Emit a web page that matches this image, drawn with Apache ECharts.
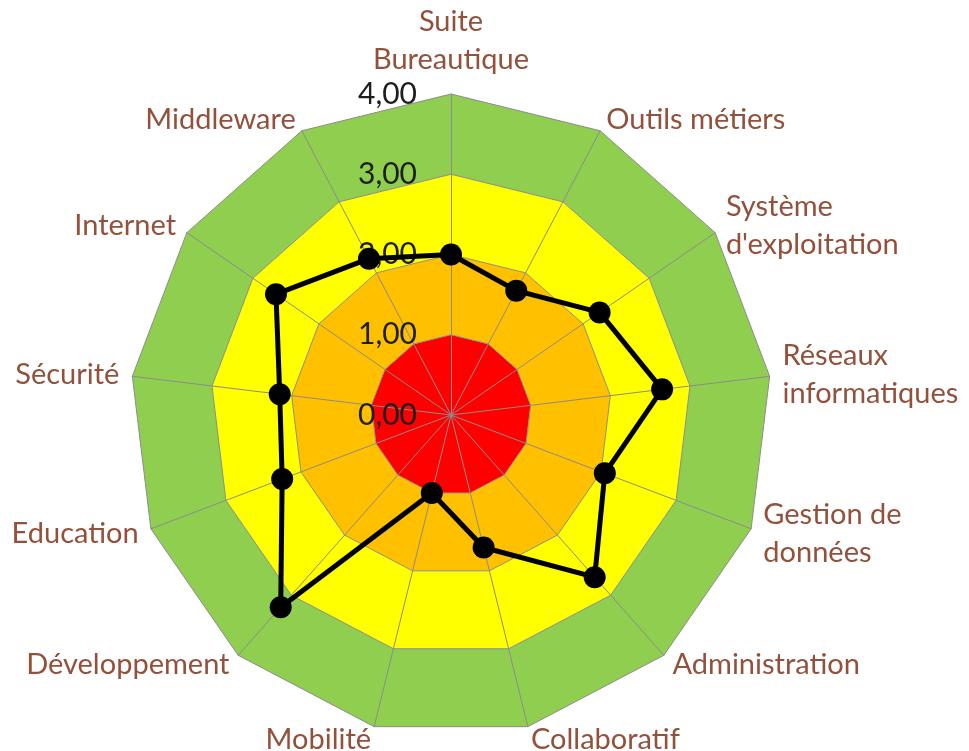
<!DOCTYPE html>
<html>
<head>
<meta charset="utf-8">
<script src="https://cdn.jsdelivr.net/npm/echarts@6/dist/echarts.min.js"></script>
<style>
html,body{margin:0;padding:0;background:#fff;}
#chart{width:969px;height:751px;}
</style>
</head>
<body>
<div id="chart"></div>
<script>
var categories = [
  "Suite\nBureautique",
  "Outils métiers",
  "Système\nd'exploitation",
  "Réseaux\ninformatiques",
  "Gestion de\ndonnées",
  "Administration",
  "Collaboratif",
  "Mobilité",
  "Développement",
  "Education",
  "Sécurité",
  "Internet",
  "Middleware"
];
var scores = [2.0, 1.75, 2.25, 2.65, 2.05, 2.7, 1.7, 1.0, 3.2, 2.25, 2.15, 2.65, 2.2];
var scaleMax = 4;
var bandColors = ["#FF0000", "#FFC000", "#FFFF00", "#8FCE4F"];

// ECharts lays radar indicators out counter-clockwise; the reference runs clockwise.
var order = [0];
for (var k = categories.length - 1; k >= 1; k--) order.push(k);

var indicators = order.map(function (i, pos) {
  var ind = { name: categories[i], min: 0, max: scaleMax };
  if (pos === 0) {
    ind.axisLabel = { show: true };
  }
  return ind;
});
var orderedScores = order.map(function (i) { return scores[i]; });

var chart = echarts.init(document.getElementById('chart'));
chart.setOption({
  animation: false,
  radar: {
    center: [451, 415],
    radius: 321,
    startAngle: 90,
    splitNumber: 4,
    indicator: indicators,
    nameGap: 13,
    axisName: {
      color: '#93503B',
      fontFamily: 'Lato',
      fontSize: 29,
      lineHeight: 38
    },
    axisLine: { show: true, lineStyle: { color: '#8C8C8C', width: 1 } },
    splitLine: { show: true, lineStyle: { color: '#8C8C8C', width: 1 } },
    splitArea: { show: true, areaStyle: { color: bandColors, opacity: 1 } },
    axisTick: { show: false },
    axisLabel: {
      show: false,
      margin: 34,
      color: '#1E1E1E',
      fontFamily: 'Lato',
      fontSize: 30,
      formatter: function (v) { return v.toFixed(2).replace('.', ','); }
    }
  },
  series: [{
    type: 'radar',
    symbol: 'circle',
    symbolSize: 22,
    lineStyle: { color: '#000', width: 5 },
    itemStyle: { color: '#000' },
    data: [{ value: orderedScores, name: 'Score' }]
  }]
});
</script>
</body>
</html>
